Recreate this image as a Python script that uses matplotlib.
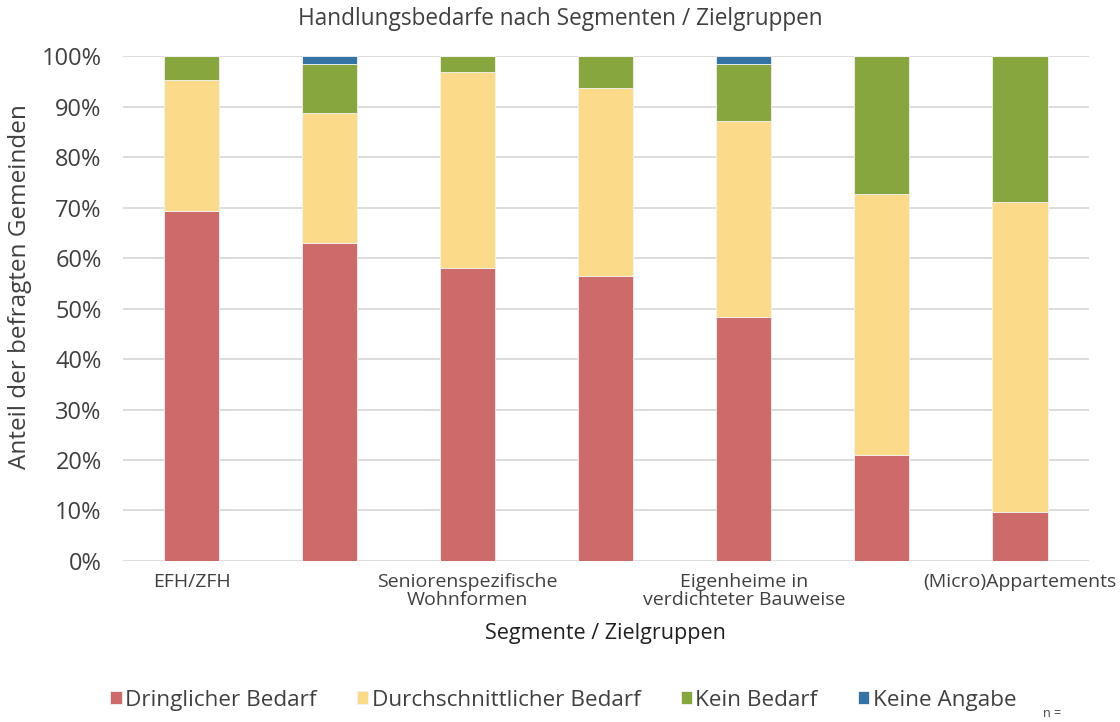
import matplotlib
matplotlib.use("Agg")
import matplotlib.pyplot as plt
import numpy as np

plt.rcParams['font.family'] = ['Open Sans', 'DejaVu Sans']

categories = ["EFH/ZFH", "", "Seniorenspezifische\nWohnformen", "",
              "Eigenheime in\nverdichteter Bauweise", "", "(Micro)Appartements"]
series_names = ["Dringlicher Bedarf", "Durchschnittlicher Bedarf", "Kein Bedarf", "Keine Angabe"]
dringlich = [69.4, 62.9, 58.1, 56.5, 48.4, 21.0, 9.7]
durchschnitt = [25.8, 25.8, 38.7, 37.1, 38.7, 51.6, 61.3]
kein = [4.8, 9.7, 3.2, 6.4, 11.3, 27.4, 29.0]
keine_angabe = [0.0, 1.6, 0.0, 0.0, 1.6, 0.0, 0.0]
yticks = [0, 10, 20, 30, 40, 50, 60, 70, 80, 90, 100]
ytick_labels = [f"{v}%" for v in yticks]

colors = ["#CD6B6B", "#FBDB8A", "#87A73E", "#3673A5"]
txt = "#404040"

fig = plt.figure(figsize=(11.2, 7.22), dpi=100)
ax = fig.add_axes([0.1094, 0.2230, 0.8629, 0.6994])

x = np.arange(len(categories))
bottom = np.zeros(len(categories))
handles = []
for vals, col, name in zip([dringlich, durchschnitt, kein, keine_angabe], colors, series_names):
    b = ax.bar(x, vals, width=0.4, bottom=bottom, color=col, edgecolor="#f2f2f2",
               linewidth=0.6, label=name, zorder=3)
    handles.append(b)
    bottom += np.array(vals)

ax.set_xlim(-0.5, len(categories) - 0.5)
ax.set_ylim(0, 100)
ax.set_yticks(yticks)
ax.set_yticklabels(ytick_labels, fontsize=17, color=txt)
ax.set_xticks(x)
ax.set_xticklabels(categories, fontsize=14, color=txt, linespacing=1.0)
ax.tick_params(axis="both", length=0)
ax.tick_params(axis="y", pad=15)
ax.tick_params(axis="x", pad=9)
for s in ax.spines.values():
    s.set_visible(False)
ax.yaxis.grid(True, color="#D9D9D9", linewidth=1.3, zorder=0)
ax.set_axisbelow(True)

ax.set_ylabel("Anteil der befragten Gemeinden", fontsize=17.5, color=txt)
ax.yaxis.set_label_coords(-0.094, 0.543)
ax.set_xlabel("Segmente / Zielgruppen", fontsize=15.5, color="#202020", labelpad=10)
fig.text(0.5, 0.974, "Handlungsbedarfe nach Segmenten / Zielgruppen", ha="center", va="center",
         fontsize=16.3, color=txt)

leg = fig.legend(handles=handles, labels=series_names, loc="center", bbox_to_anchor=(0.503, 0.03),
                 ncol=4, frameon=False, fontsize=16.2, handlelength=0.5, handleheight=0.5,
                 handletextpad=0.15, columnspacing=1.8, labelcolor=txt)
fig.text(0.931, 0.012, "n =", fontsize=9, color=txt, ha="left", va="center")

fig.savefig("out.png", dpi=100)
